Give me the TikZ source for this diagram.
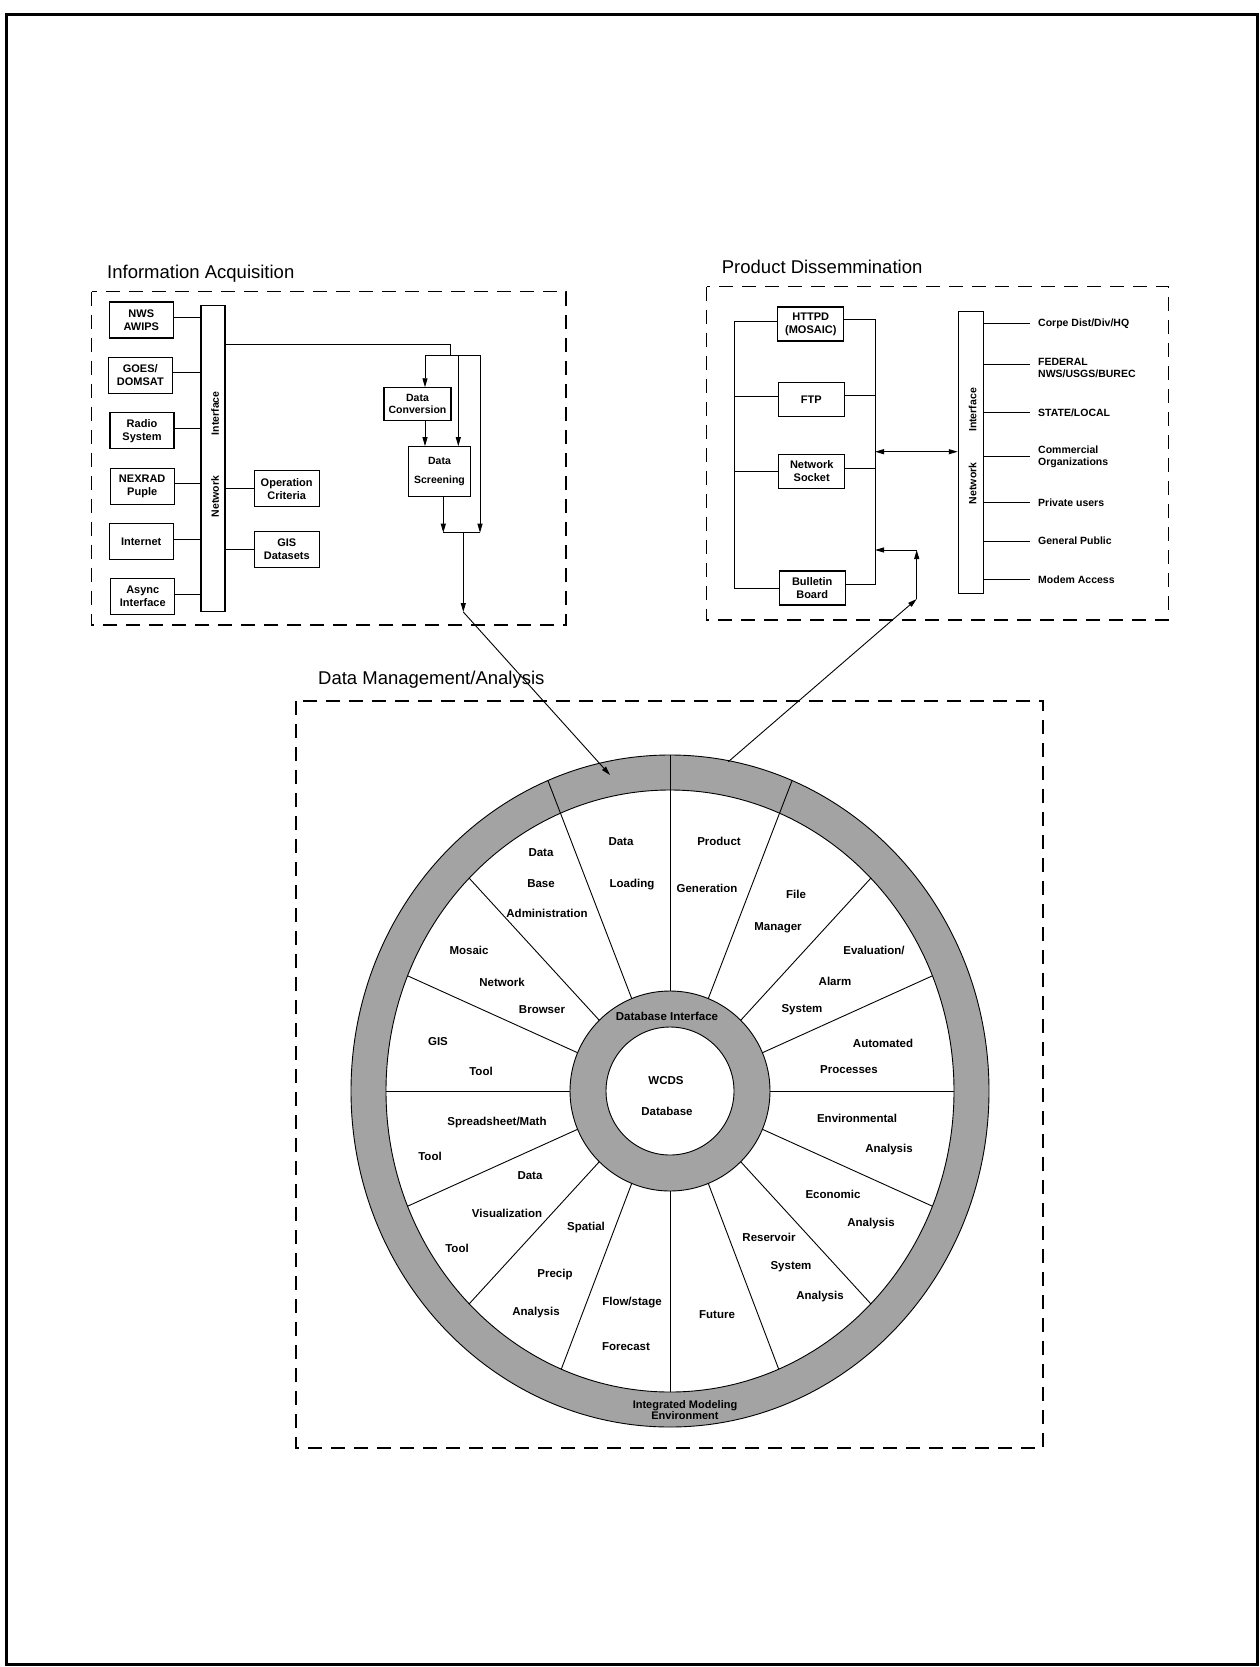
\documentclass[tikz,border=0pt]{standalone}
\usepackage{fontspec}
\setmainfont{Liberation Sans}
\usetikzlibrary{arrows.meta,calc}
\definecolor{ringgray}{gray}{0.64}
\begin{document}
\begin{tikzpicture}[x=1pt,y=-1pt,
  wire/.style={line width=0.9pt},
  arr/.style={wire,-{Triangle[length=9pt,width=5pt]}},
  dbl/.style={wire,{Triangle[length=9pt,width=5pt]}-{Triangle[length=9pt,width=5pt]}},
  dashbox/.style={line width=1.1pt,dash pattern=on 14pt off 9pt},
  ibox/.style={draw,line width=1.1pt,inner sep=0pt,minimum width=64pt,minimum height=36pt,align=center,font=\bfseries\fontsize{11}{13}\selectfont},
  pbox/.style={ibox,minimum width=66pt,minimum height=34pt},
  bar/.style={draw,line width=1.1pt,inner sep=0pt},
  bartxt/.style={rotate=90,font=\bfseries\fontsize{10.5}{12}\selectfont,inner sep=0pt},
  plab/.style={anchor=west,inner sep=0pt,align=left,font=\bfseries\fontsize{10.5}{12.3}\selectfont},
  wtxt/.style={inner sep=0pt,font=\bfseries\fontsize{11.5}{13}\selectfont},
  title/.style={anchor=base west,inner sep=0pt,font=\fontsize{18.5}{22}\selectfont},
]
\useasboundingbox (0,0) rectangle (1260,1667);
\fill[white] (0,0) rectangle (1260,1667);
\draw[line width=3pt] (6,15) rectangle (1257,1664);

% ---------------- Titles and dashed boxes
\node[title] (tia) at (107,278.3) {Information Acquisition};
\node[title] (tpd) at (721.7,273.3) {Product Dissemmination};
\node[title] (tdm) at (318,684) {Data Management/Analysis};
\draw[dashbox] (91.7,291.7) rectangle (566,625);
\draw[dashbox] (706.7,286.7) rectangle (1168.3,620);
\draw[dashbox] (296,701) rectangle (1043,1448);

% ---------------- Information Acquisition
\node[ibox] (nws) at (141.3,320) {NWS\\AWIPS};
\node[ibox] (goes) at (140.3,375.3) {GOES/\\DOMSAT};
\node[ibox] (radio) at (142,430.8) {Radio\\System};
\node[ibox] (nexrad) at (142.2,486.2) {NEXRAD\\Puple};
\node[ibox] (internet) at (141.2,541.7) {Internet};
\node[ibox] (async) at (142.8,596.7) {Async\\Interface};
\node[bar,minimum width=24pt,minimum height=306pt] (iabar) at (213,458.7) {};
\node[bartxt] (iaif) at (215,413.3) {Interface};
\node[bartxt] (ianw) at (215,496.7) {Network};
\foreach \n in {nws,goes,radio,nexrad,internet,async}
  \draw[wire] ([yshift=2.5pt]\n.east) -- ([yshift=2.5pt]\n.east -| iabar.west);
\node[ibox,minimum width=65pt] (opcrit) at (286.7,488.7) {Operation\\Criteria};
\node[ibox,minimum width=65pt] (gisdata) at (286.8,549.3) {GIS\\Datasets};
\draw[wire] (opcrit.west) -- (opcrit.west -| iabar.east);
\draw[wire] (gisdata.west) -- (gisdata.west -| iabar.east);
\node[ibox,minimum width=67pt,minimum height=33pt,font=\bfseries\fontsize{10.5}{11.8}\selectfont] (dataconv) at (417.5,404.3) {Data\\Conversion};
\node[ibox,minimum width=62pt,minimum height=50pt,font=\bfseries\fontsize{10.5}{12}\selectfont] (datascr) at (439.5,471.7) {Data\\[7pt]Screening};
\coordinate (t1) at (450,344);
\coordinate (t2) at (450,355);
\coordinate (ta) at (425,355);
\coordinate (tb) at (458.3,355);
\coordinate (tc) at (480,355);
\coordinate (j1) at (443.3,532.7);
\coordinate (j2) at (480,532.7);
\coordinate (jm) at (463.3,532.7);
\coordinate (jo) at (463.3,612);
\draw[wire] (iabar.east |- t1) -- (t1) -- (t2);
\draw[wire] (ta) -- (tc);
\draw[arr] (ta) -- (ta |- dataconv.north);
\draw[arr] (ta |- dataconv.south) -- (ta |- datascr.north);
\draw[arr] (tb) -- (tb |- datascr.north);
\draw[arr] (tc) -- (j2);
\draw[arr] (j1 |- datascr.south) -- (j1);
\draw[wire] (j1) -- (j2);
\draw[arr] (jm) -- (jo);

% ---------------- Product Dissemination
\node[pbox] (httpd) at (810.8,324) {HTTPD\\(MOSAIC)};
\node[pbox] (ftp) at (811.3,399.7) {FTP};
\node[pbox] (socket) at (811.7,471.2) {Network\\Socket};
\node[pbox] (bulletin) at (812.2,588) {Bulletin\\Board};
\coordinate (lbx) at (734.3,324);
\coordinate (rbx) at (875,324);
\draw[wire] ([yshift=3pt]httpd.west) -| (lbx |- bulletin.west) -- (bulletin.west);
\draw[wire] ([yshift=3pt]ftp.west) -- ([yshift=3pt]ftp.west -| lbx);
\draw[wire] (socket.west) -- (socket.west -| lbx);
\draw[wire] ([yshift=5pt]httpd.east) -| ([yshift=4pt]bulletin.east -| rbx) -- ([yshift=4pt]bulletin.east);
\draw[wire] ([yshift=4pt]ftp.east) -- ([yshift=4pt]ftp.east -| rbx);
\draw[wire] ([yshift=3pt]socket.east) -- ([yshift=3pt]socket.east -| rbx);
\node[bar,minimum width=25pt,minimum height=282pt] (pdbar) at (970.8,452.2) {};
\node[bartxt] (pdif) at (972.5,410) {Interface};
\node[bartxt] (pdnw) at (972.5,483.3) {Network};
\coordinate (da) at (876.7,451.7);
\draw[dbl] (da -| rbx) -- (da -| pdbar.west);
\node[plab] (c1) at (1038,323.3) {Corpe Dist/Div/HQ};
\node[plab] (c2) at (1038,368) {FEDERAL\\NWS/USGS/BUREC};
\node[plab] (c3) at (1038,412.5) {STATE/LOCAL};
\node[plab] (c4) at (1038,457) {Commercial\\Organizations};
\node[plab] (c5) at (1038,502.5) {Private users};
\node[plab] (c6) at (1038,541) {General Public};
\node[plab] (c7) at (1038,579.5) {Modem Access};
\coordinate (p1) at (c1.west);
\coordinate (p2) at ([yshift=3.7pt]c2.west);
\coordinate (p3) at (c3.west);
\coordinate (p4) at ([yshift=1pt]c4.west);
\coordinate (p5) at (c5.west);
\coordinate (p6) at (c6.west);
\coordinate (p7) at (c7.west);
\foreach \c in {p1,p2,p3,p4,p5,p6,p7}
  \draw[wire] (\c -| pdbar.east) -- ([xshift=-8pt]\c);

% ---------------- Wheel
\coordinate (wc) at (670,1091);
\fill[ringgray,even odd rule] (wc) ellipse [x radius=319,y radius=336] (wc) ellipse [x radius=284,y radius=301];
\fill[ringgray,even odd rule] (wc) circle [radius=100] (wc) circle [radius=64];
\foreach \a in {0,22.5,45,135,157.5,180,202.5,225,247.5,270,292.5,315,337.5}
  \draw[wire] ({670+100*cos(\a)},{1091-100*sin(\a)}) -- ({670+284*cos(\a)},{1091-301*sin(\a)});
\foreach \a in {67.5,90,112.5}
  \draw[wire] ({670+100*cos(\a)},{1091-100*sin(\a)}) -- ({670+319*cos(\a)},{1091-336*sin(\a)});
\draw[wire] (wc) ellipse [x radius=319,y radius=336];
\draw[wire] (wc) ellipse [x radius=284,y radius=301];
\draw[wire] (wc) circle [radius=100];
\draw[wire] (wc) circle [radius=64];

\node[wtxt] (w1) at (621,842) {Data};
\node[wtxt] (w2) at (632,885) {Loading};
\node[wtxt] (w3) at (719,841) {Product};
\node[wtxt] (w4) at (707,888) {Generation};
\node[wtxt] (w5) at (796,894) {File};
\node[wtxt] (w6) at (778,928) {Manager};
\node[wtxt] (w7) at (874,950) {Evaluation/};
\node[wtxt] (w8) at (835,981) {Alarm};
\node[wtxt] (w9) at (802,1010) {System};
\node[wtxt] (w10) at (883,1043) {Automated};
\node[wtxt] (w11) at (849,1070) {Processes};
\node[wtxt] (w12) at (857,1118) {Environmental};
\node[wtxt] (w13) at (889,1150) {Analysis};
\node[wtxt] (w14) at (833,1194) {Economic};
\node[wtxt] (w15) at (871,1224) {Analysis};
\node[wtxt] (w16) at (769,1237) {Reservoir};
\node[wtxt] (w17) at (791,1267) {System};
\node[wtxt] (w18) at (820,1297) {Analysis};
\node[wtxt] (w19) at (717,1315) {Future};
\node[wtxt] (w20) at (632,1303) {Flow/stage};
\node[wtxt] (w21) at (626,1347) {Forecast};
\node[wtxt] (w22) at (586,1228) {Spatial};
\node[wtxt] (w23) at (555,1275) {Precip};
\node[wtxt] (w24) at (536,1313) {Analysis};
\node[wtxt] (w25) at (530,1176) {Data};
\node[wtxt] (w26) at (507,1213) {Visualization};
\node[wtxt] (w27) at (457,1248) {Tool};
\node[wtxt] (w28) at (497,1123) {Spreadsheet/Math};
\node[wtxt] (w29) at (430,1156) {Tool};
\node[wtxt] (w30) at (438,1042) {GIS};
\node[wtxt] (w31) at (481,1071) {Tool};
\node[wtxt] (w32) at (469,950) {Mosaic};
\node[wtxt] (w33) at (502,982) {Network};
\node[wtxt] (w34) at (542,1010) {Browser};
\node[wtxt] (w35) at (541,853) {Data};
\node[wtxt] (w36) at (541,884) {Base};
\node[wtxt] (w37) at (547,913) {Administration};
\node[wtxt] (w38) at (667,1016) {Database Interface};
\node[wtxt] (w39) at (666,1081) {WCDS};
\node[wtxt] (w40) at (667,1111) {Database};
\node[wtxt,align=center,font=\bfseries\fontsize{11}{11.5}\selectfont] (w41) at (685,1410) {Integrated Modeling\\Environment};

% ---------------- Links between the groups
\coordinate (ringIn) at (610,775);
\coordinate (ringOut) at (728.3,761.7);
\coordinate (pin) at (916.7,599);
\coordinate (pc) at (916.7,550);
\draw[arr] (jo) -- (ringIn);
\draw[arr] (ringOut) -- (pin);
\draw[arr] (pin) -- (pc);
\draw[arr] (pc) -- (pc -| rbx);
\end{tikzpicture}
\end{document}
